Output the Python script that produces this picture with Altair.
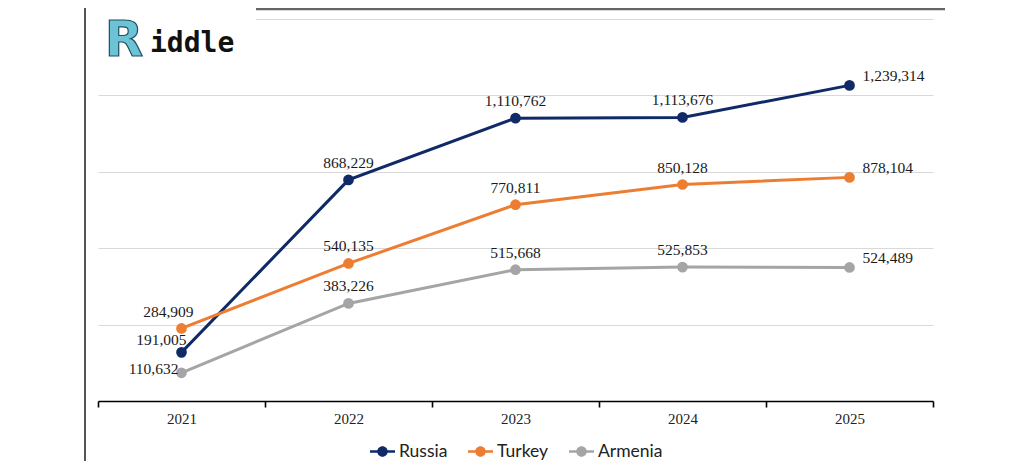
import altair as alt
import pandas as pd

years = ["2021", "2022", "2023", "2024", "2025"]
series_names = ["Russia", "Turkey", "Armenia"]
russia = [191005, 868229, 1110762, 1113676, 1239314]
turkey = [284909, 540135, 770811, 850128, 878104]
armenia = [110632, 383226, 515668, 525853, 524489]
colors = ["#0f2a67", "#ed7d31", "#a5a5a5"]
grid_values = [0, 300000, 600000, 900000, 1200000, 1500000]

rows = []
for name, vals in zip(series_names, [russia, turkey, armenia]):
    for y, v in zip(years, vals):
        rows.append({"year": y, "country": name, "value": v})
df = pd.DataFrame(rows)

W, H = 835, 382

x_enc = alt.X("year:O", sort=years,
              scale=alt.Scale(type="band", paddingInner=0, paddingOuter=0),
              axis=alt.Axis(title=None, grid=False, labelAngle=0, tickBand="extent",
                            domainColor="#000", domainWidth=1.6, tickColor="#000",
                            tickWidth=1.6, tickSize=6, labelFont="Liberation Serif",
                            labelFontSize=15, labelColor="#222", labelPadding=4))
y_enc = alt.Y("value:Q", scale=alt.Scale(domain=[0, 1500000], nice=False, zero=True),
              axis=alt.Axis(title=None, labels=False, ticks=False, domain=False, grid=True,
                            values=grid_values, gridColor="#d9d9d9", gridWidth=1))
color_scale = alt.Scale(domain=series_names, range=colors)

legend_path = ("M-1,-0.1H1V0.1H-1Z "
               "M-0.42,0A0.42,0.42 0 1,1 0.42,0A0.42,0.42 0 1,1 -0.42,0Z")
legend = alt.Legend(title=None, orient="none", legendX=272, legendY=420,
                    direction="horizontal", symbolType=legend_path,
                    symbolSize=625, symbolStrokeWidth=0, symbolFillColor="#000",
                    labelFont="Lato", labelFontSize=17.5,
                    labelColor="#222", labelOffset=4, columnPadding=20)
color_enc = alt.Color("country:N", scale=color_scale, sort=series_names, legend=legend)

base = alt.Chart(df)

points = base.mark_circle(size=115, opacity=1).encode(x=x_enc, y=y_enc, color=color_enc)
lines = base.mark_line(strokeWidth=3).encode(x=x_enc, y=y_enc, color=color_enc)

def label_layer(filter_pred, align, dx, dy):
    return base.mark_text(align=align, baseline="alphabetic", dx=dx, dy=dy,
                          font="Liberation Serif", fontSize=15.5, color="#1a1a1a").encode(
        x=x_enc, y=y_enc, text=alt.Text("value:Q", format=","),
    ).transform_filter(filter_pred)

mid = label_layer(alt.FieldOneOfPredicate(field="year", oneOf=["2022", "2023", "2024"]),
                  "center", 0, -12)
last = label_layer(alt.FieldEqualPredicate(field="year", equal="2025"), "left", 13, -4)
first_t = label_layer("datum.year == '2021' && datum.country == 'Turkey'", "right", 12, -11)
first_r = label_layer("datum.year == '2021' && datum.country == 'Russia'", "right", 5, -7)
first_a = label_layer("datum.year == '2021' && datum.country == 'Armenia'", "right", -3, 1)

one = pd.DataFrame({"k": [0]})
deco = alt.Chart(one)
white_box = deco.mark_rect(color="white").encode(
    x=alt.value(-5), x2=alt.value(158), y=alt.value(-11), y2=alt.value(50))
top_line = deco.mark_rule(color="#666", strokeWidth=2.5).encode(
    x=alt.value(158), x2=alt.value(847), y=alt.value(-10))
left_line = deco.mark_rule(color="#555", strokeWidth=2).encode(
    x=alt.value(-13), y=alt.value(-11), y2=alt.value(451))
logo_icon = deco.mark_text(text="R", font="DejaVu Sans", fontWeight="bold", fontSize=50,
                           align="center", baseline="middle", color="#6cc3d5",
                           stroke="#1f4e5f", strokeWidth=1.2).encode(
    x=alt.value(26), y=alt.value(22))
logo_text = deco.mark_text(text="iddle", font="DejaVu Sans Mono", fontWeight="bold",
                           fontSize=28, align="left", baseline="alphabetic",
                           color="#111").encode(
    x=alt.value(52), y=alt.value(33))

chart = alt.layer(
    lines, points, mid, last, first_t, first_r, first_a,
    white_box, top_line, left_line, logo_icon, logo_text,
).properties(
    width=W, height=H,
    padding={"left": 90, "top": 11, "right": 83, "bottom": 60},
    autosize=alt.AutoSizeParams(type="none"),
    background="white",
).configure_view(stroke=None)

chart.save("out.html", embed_options={"renderer": "svg", "actions": False})
